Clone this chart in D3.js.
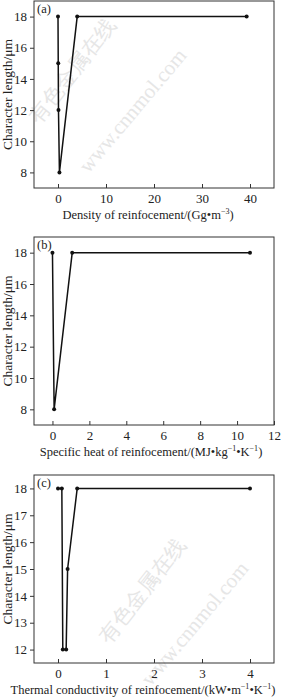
<!DOCTYPE html>
<html><head><meta charset="utf-8">
<script src="https://cdn.jsdelivr.net/npm/d3@7"></script>
<style>body{margin:0;background:#fff}svg{display:block}text{font-family:"Liberation Serif","Times New Roman",serif;fill:#222}</style>
</head><body>
<script>
// Panel (a): density
const densityX = [0, 0.05, 0.1, 0.3, 4, 39.3];
const densityY = [18, 15, 12, 8, 18, 18];
const densityXTicks = [0, 10, 20, 30, 40];
const densityYTicks = [8, 10, 12, 14, 16, 18];
// Panel (b): specific heat
const heatX = [0, 0.09, 1.07, 10.7];
const heatY = [18, 8, 18, 18];
const heatXTicks = [0, 2, 4, 6, 8, 10, 12];
const heatYTicks = [8, 10, 12, 14, 16, 18];
// Panel (c): thermal conductivity
const condX = [0, 0.08, 0.1, 0.17, 0.2, 0.4, 4];
const condY = [18, 18, 12, 12, 15, 18, 18];
const condXTicks = [0, 1, 2, 3, 4];
const condYTicks = [12, 13, 14, 15, 16, 17, 18];

const W = 282, H = 698;
const svg = d3.select("body").append("svg").attr("width", W).attr("height", H);

// watermark
const wm = svg.append("g").style("font-family", "'Noto Sans CJK SC',sans-serif");
function mark(x, y, txt, size, ang) {
  wm.append("text").attr("transform", `translate(${x},${y}) rotate(${ang})`)
    .attr("font-size", size).attr("text-anchor", "middle").style("fill", "#e6e6e6").text(txt);
}
mark(78, 75, "有色金属在线", 21, -52);
mark(138, 115, "www.cnnmol.com", 21, -50);
mark(148, 595, "有色金属在线", 21, -52);
mark(200, 628, "www.cnnmol.com", 21, -50);

function panel(o) {
  const g = svg.append("g");
  const x = d3.scaleLinear().domain(o.xd).range([34, 274]);
  const y = d3.scaleLinear().domain(o.yd).range([o.bottom, o.top]);
  g.append("rect").attr("x", 34).attr("y", o.top).attr("width", 240).attr("height", o.bottom - o.top)
    .attr("fill", "none").attr("stroke", "#333").attr("stroke-width", 1);
  const xa = g.append("g").attr("transform", `translate(0,${o.bottom})`)
    .call(d3.axisBottom(x).tickValues(o.xt).tickSize(-4).tickPadding(6).tickFormat(d3.format("d")));
  const ya = g.append("g").attr("transform", `translate(34,0)`)
    .call(d3.axisLeft(y).tickValues(o.yt).tickSize(4).tickPadding(3).tickFormat(d3.format("d")));
  [xa, ya].forEach(a => {
    a.select(".domain").remove();
    a.selectAll("line").attr("stroke", "#333");
    a.selectAll("text").attr("font-size", 13).style("font-family", "'Liberation Serif',serif").attr("fill", "#222");
  });
  const pts = o.xs.map((v, i) => [v, o.ys[i]]);
  g.append("path").datum(pts)
    .attr("d", d3.line().x(d => x(d[0])).y(d => y(d[1])))
    .attr("fill", "none").attr("stroke", "#111").attr("stroke-width", 1.5);
  g.selectAll("circle").data(pts).join("circle")
    .attr("cx", d => x(d[0])).attr("cy", d => y(d[1])).attr("r", 2).attr("fill", "#111");
  g.append("text").attr("x", 37).attr("y", o.top + 12).attr("font-size", 12.5).text(o.tag);
  g.append("text").attr("transform", `translate(12,${(o.top + o.bottom) / 2}) rotate(-90)`)
    .attr("text-anchor", "middle").attr("font-size", 13.5).text("Character length/μm");
  const xl = g.append("text").attr("x", o.lx).attr("y", o.bottom + 31).attr("text-anchor", "middle").attr("font-size", 12.5);
  o.label.forEach(p => {
    const t = xl.append("tspan").text(p[0]);
    if (p[1]) t.attr("font-size", 8).attr("dy", -5);
    else if (p[2]) t.attr("dy", 5);
  });
}

panel({tag: "(a)", top: 1, bottom: 188, xd: [-5, 45], yd: [7, 19], xt: densityXTicks, yt: densityYTicks,
  xs: densityX, ys: densityY, lx: 148,
  label: [["Density of reinfocement/(Gg•m"], ["−3", 1], [")", 0, 1]]});
panel({tag: "(b)", top: 237, bottom: 425, xd: [-1, 12], yd: [7, 19], xt: heatXTicks, yt: heatYTicks,
  xs: heatX, ys: heatY, lx: 151,
  label: [["Specific heat of reinfocement/(MJ•kg"], ["−1", 1], ["•K", 0, 1], ["−1", 1], [")", 0, 1]]});
panel({tag: "(c)", top: 475, bottom: 663, xd: [-0.5, 4.5], yd: [11.5, 18.5], xt: condXTicks, yt: condYTicks,
  xs: condX, ys: condY, lx: 143,
  label: [["Thermal conductivity of reinfocement/(kW•m"], ["−1", 1], ["•K", 0, 1], ["−1", 1], [")", 0, 1]]});
</script>
</body></html>
